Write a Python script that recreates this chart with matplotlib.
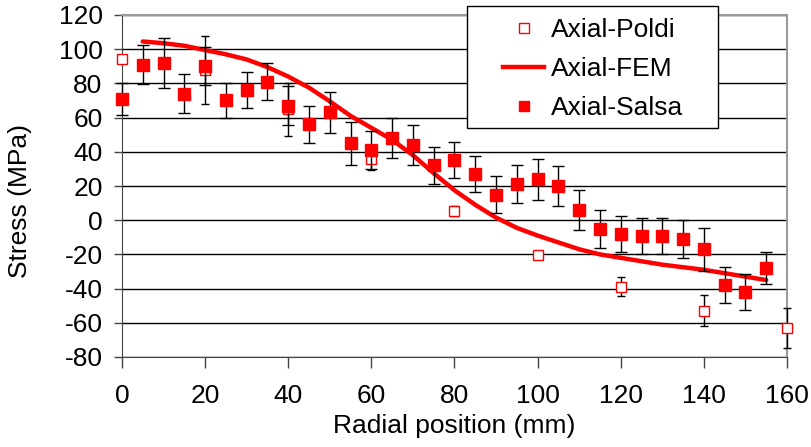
import matplotlib.pyplot as plt
from matplotlib.lines import Line2D
from matplotlib.patches import Rectangle

plt.rcParams['font.family'] = ['Liberation Sans', 'DejaVu Sans']
plt.rcParams['axes.unicode_minus'] = False

# Axial-Salsa (measured, with error bars)
x_salsa = [0, 5, 10, 15, 20, 25, 30, 35, 40, 45, 50, 55, 60, 65, 70, 75,
           80, 85, 90, 95, 100, 105, 110, 115, 120, 125, 130, 135, 140, 145, 150, 155]
y_salsa = [71, 91, 92, 74, 90, 70, 76, 81, 67, 56, 63, 45, 41, 48, 44, 32,
           35, 27, 15, 21, 24, 20, 6, -5, -8, -9, -9, -11, -17, -38, -42, -28]
e_salsa = [9.5, 11.5, 14.5, 11.5, 11, 10, 10.5, 11, 11.5, 11, 12, 12.5, 11, 11.8, 11.5, 10.7,
           10.6, 10.8, 10.6, 11, 12, 11.7, 11.7, 11, 10.5, 10.5, 10.5, 11, 12.7, 10.6, 10.7, 9.3]

# Axial-Poldi
x_poldi = [0, 20, 40, 60, 80, 100, 120, 140, 160]
y_poldi = [94, 88, 65, 35.5, 5.5, -20.5, -39, -53, -63]
e_poldi = [2, 20, 15.5, 6, 3, 1, 5.6, 9, 11.6]

# Axial-FEM
x_fem = [5, 10, 15, 20, 25, 30, 35, 40, 45, 50, 55, 60, 65, 70, 75, 80,
         85, 90, 95, 100, 105, 110, 115, 120, 125, 130, 135, 140, 145, 150, 155]
y_fem = [104.5, 103.5, 102, 99.5, 97, 94, 89.5, 84, 77.5, 69.5, 61, 54, 47, 38, 27.5, 17.5,
         9, 1.5, -4.5, -9, -13, -17, -20, -22, -24, -26, -27.5, -29, -31, -33, -35]

W, H = 812, 447
fig = plt.figure(figsize=(W / 100, H / 100), dpi=100)
ax = fig.add_axes([122 / W, 1 - 357 / H, 665 / W, 342 / H])

ax.errorbar(x_poldi, y_poldi, yerr=e_poldi, fmt='s', ms=7.2, mfc='white', mec='red',
            mew=1.0, ecolor='black', elinewidth=1.0, capsize=3, capthick=1.0,
            zorder=3, clip_on=False)
ax.plot(x_fem, y_fem, color='red', lw=3.2, zorder=4, solid_capstyle='round')
ax.errorbar(x_salsa, y_salsa, yerr=e_salsa, fmt='s', ms=8.6, mfc='red', mec='red',
            ecolor='black', elinewidth=1.0, capsize=4, capthick=1.0,
            zorder=5, clip_on=False)

ax.set_xlim(0, 160)
ax.set_ylim(-80, 120)
ax.set_xticks(range(0, 161, 20))
ax.set_yticks(range(-80, 121, 20))
ax.yaxis.grid(True, color='black', lw=1)
ax.set_axisbelow(True)
ax.tick_params(labelsize=19, width=1, direction='out', color='#444444')
ax.tick_params(axis='x', length=8, pad=11.5)
ax.tick_params(axis='y', length=6, pad=8)
for side in ['top', 'right']:
    ax.spines[side].set_color('#999999')
    ax.spines[side].set_linewidth(1.5)
ax.spines['left'].set_color('#444444')
ax.spines['bottom'].set_color('#444444')

ax.set_xlabel('Radial position (mm)', fontsize=19, labelpad=4)
ax.set_ylabel('Stress (MPa)', fontsize=19)
ax.yaxis.set_label_coords(-0.1353, 0.456)

# legend: frame drawn separately (wide side padding as in the original)
frame = Rectangle((467 / W, 1 - 128 / H), 251 / W, 122 / H,
                  transform=fig.transFigure, facecolor='white', edgecolor='black',
                  lw=1, zorder=9)
fig.patches.append(frame)
handles = [
    Line2D([], [], ls='none', marker='s', ms=7.2, mfc='white', mec='red', mew=1.0),
    Line2D([], [], color='red', lw=3.2),
    Line2D([], [], ls='none', marker='s', ms=7.2, mfc='red', mec='red'),
]
labels = ['Axial-Poldi', 'Axial-FEM', 'Axial-Salsa']
leg = fig.legend(handles, labels, loc='upper left', bbox_to_anchor=(503.4 / W, 1 - 18.2 / H),
                 fontsize=19, frameon=False, handlelength=1.55, handletextpad=0.25,
                 borderpad=0.0, borderaxespad=0, labelspacing=0.57)
leg.set_zorder(10)

fig.savefig('out.png', dpi=100)
